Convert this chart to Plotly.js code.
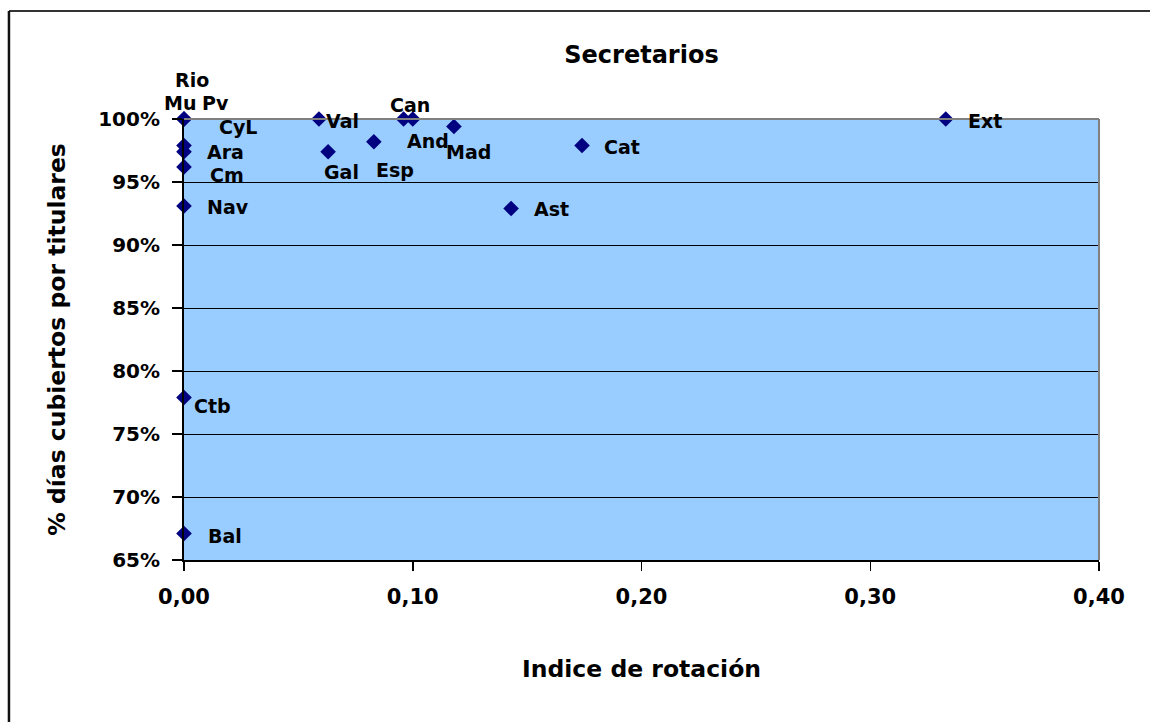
<!DOCTYPE html>
<html>
<head>
<meta charset="utf-8">
<script src="https://cdn.plot.ly/plotly-3.0.1.min.js"></script>
<style>html,body{margin:0;padding:0;background:#fff;}#chart{width:1150px;height:722px;}</style>
</head>
<body>
<div id="chart"></div>
<script>
// Data
var regions = ["Rio","Mu","Pv","CyL","Ara","Cm","Nav","Ctb","Bal","Val","Gal","Esp","Can","And","Mad","Cat","Ast","Ext"];
var rotation = [0, 0, 0, 0, 0, 0, 0, 0, 0, 0.059, 0.063, 0.083, 0.096, 0.100, 0.118, 0.174, 0.143, 0.333];
var coverage = [1.0, 1.0, 1.0, 0.979, 0.974, 0.962, 0.931, 0.779, 0.671, 1.0, 0.974, 0.982, 1.0, 1.0, 0.994, 0.979, 0.929, 1.0];
// label offsets in pixels (x right, y up)
var labelDx = [8, -4, 31, 54, 41, 43, 44, 28, 41, 24, 13, 21, 6, 15, 15, 40, 40, 39];
var labelDy = [39, 16, 16, 18, 0, -8, -1, -9, -2, -2, -20, -28, 14, -22, -25, -2, -1, -2];

var font = "'DejaVu Sans', 'Liberation Sans', Arial, sans-serif";

var annotations = regions.map(function(r, i){
  return {x: rotation[i], y: coverage[i], xref: 'x', yref: 'y', text: '<b>' + r + '</b>',
    showarrow: false, xshift: labelDx[i], yshift: labelDy[i],
    font: {family: font, size: 19, color: '#000'}};
});

var trace = {
  x: rotation, y: coverage, type: 'scatter', mode: 'markers',
  marker: {symbol: 'diamond', size: 12, color: '#000080'},
  cliponaxis: false, hoverinfo: 'skip'
};

var layout = {
  width: 1150, height: 722,
  margin: {l: 184, r: 51, t: 119, b: 162},
  paper_bgcolor: '#ffffff', plot_bgcolor: '#99CCFF',
  separators: ', ',
  showlegend: false,
  title: {text: '<b>Secretarios</b>', x: 0.5, xanchor: 'center', xref: 'paper', y: 0.924, yanchor: 'middle',
    font: {family: font, size: 24, color: '#000'}},
  xaxis: {
    range: [0, 0.4], dtick: 0.1, tick0: 0, tickformat: '.2f', showgrid: false, zeroline: false,
    showline: true, linecolor: '#000', linewidth: 2, ticks: 'outside', ticklen: 9, tickcolor: '#000', tickwidth: 1.5,
    ticklabelstandoff: 8,
    tickfont: {family: font, size: 21, color: '#000', weight: 'bold'},
    title: {text: '<b>Indice de rotación</b>', standoff: 52, font: {family: font, size: 23.5, color: '#000'}}
  },
  yaxis: {
    range: [0.65, 1.0], dtick: 0.05, tick0: 0.65, tickformat: '.0%', showgrid: true, gridcolor: '#000', gridwidth: 1,
    zeroline: false, showline: true, linecolor: '#000', linewidth: 2, ticks: 'outside', ticklen: 10, tickcolor: '#000', tickwidth: 1.5,
    ticklabelstandoff: 8,
    tickfont: {family: font, size: 20, color: '#000', weight: 'bold'},
    title: {text: '<b>% días cubiertos por titulares</b>', standoff: 26, font: {family: font, size: 23.5, color: '#000'}}
  },
  shapes: [
    {type: 'line', xref: 'paper', yref: 'paper', x0: 0, x1: 1, y0: 1, y1: 1, line: {color: '#808080', width: 2}},
    {type: 'line', xref: 'paper', yref: 'paper', x0: 1, x1: 1, y0: 0, y1: 1, line: {color: '#808080', width: 2}},
    {type: 'line', xref: 'paper', yref: 'paper', x0: -0.1913, x1: 1.06, y0: 1.245, y1: 1.245, line: {color: '#333', width: 2}},
    {type: 'line', xref: 'paper', yref: 'paper', x0: -0.1913, x1: -0.1913, y0: -0.37, y1: 1.245, line: {color: '#111', width: 2.5}}
  ],
  annotations: annotations
};

Plotly.newPlot('chart', [trace], layout, {displayModeBar: false, staticPlot: true});
</script>
</body>
</html>
